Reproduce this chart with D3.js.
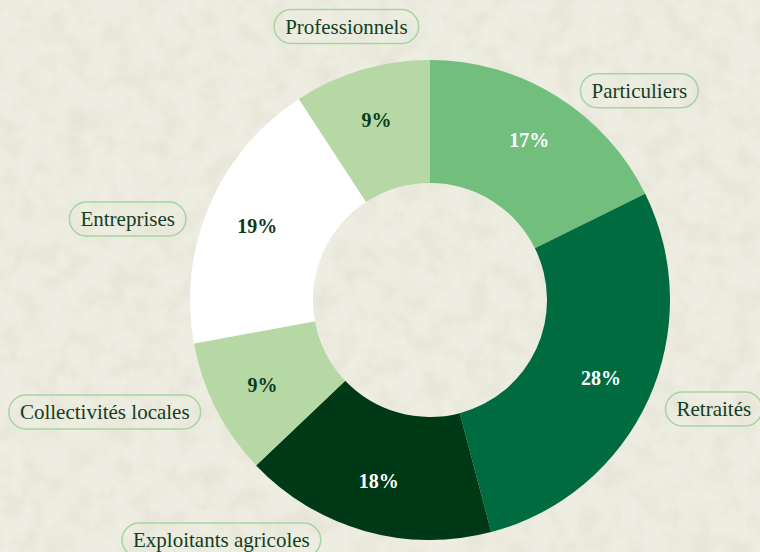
<!DOCTYPE html>
<html>
<head>
<meta charset="utf-8">
<script src="https://cdn.jsdelivr.net/npm/d3@7"></script>
<style>
  html, body { margin: 0; padding: 0; background: #eeede1; }
  svg { display: block; }
  .pill-text { font-family: 'Liberation Serif', 'DejaVu Serif', serif; font-size: 21px; fill: #123f22; }
  .pct { font-family: 'Liberation Serif', 'DejaVu Serif', serif; font-size: 20px; font-weight: bold; }
</style>
</head>
<body>
<svg id="chart" width="760" height="552"></svg>
<script>
// categories in drawing order, clockwise from 12 o'clock
const categories = ['Particuliers', 'Retraités', 'Exploitants agricoles', 'Collectivités locales', 'Entreprises', 'Professionnels'];
// slice sizes
const shares = [17.7, 28.2, 17.0, 9.2, 18.7, 9.2];
const pctLabels = ['17%', '28%', '18%', '9%', '19%', '9%'];

const sliceColors = ['#72be7d', '#006b3f', '#003915', '#b5d8a5', '#ffffff', '#b5d8a5'];
const pctColors = ['#ffffff', '#ffffff', '#ffffff', '#0b3a1c', '#0b3a1c', '#0b3a1c'];
// where each name tag sits: angle (deg from top, clockwise) and distance from centre
const tagAngles = [45, 111, 221, 251, 285, 343];
const tagDist = [296, 304, 318, 344, 313, 286];

const svg = d3.select('#chart');
const width = +svg.attr('width');
const height = +svg.attr('height');

// paper texture
const defs = svg.append('defs');
const f = defs.append('filter').attr('id', 'paper').attr('x', 0).attr('y', 0).attr('width', '100%').attr('height', '100%');
f.append('feTurbulence').attr('type', 'fractalNoise').attr('baseFrequency', 0.045).attr('numOctaves', 4).attr('seed', 3).attr('result', 'n');
f.append('feColorMatrix').attr('in', 'n').attr('type', 'matrix')
  .attr('values', '0 0 0 0 0.55  0 0 0 0 0.55  0 0 0 0 0.45  0 0 0 -1.2 0.75');
svg.append('rect').attr('width', width).attr('height', height).attr('fill', '#eeede1');
svg.append('rect').attr('width', width).attr('height', height).attr('filter', 'url(#paper)').attr('opacity', 0.35);

const cx = 430, cy = 300;
const outerR = 240, innerR = 117;

const data = categories.map((c, i) => ({ name: c, value: shares[i], pct: pctLabels[i], i }));

const pie = d3.pie().value(d => d.value).sort(null);
const arcs = pie(data);
const arc = d3.arc().innerRadius(innerR).outerRadius(outerR);
const labelArc = d3.arc().innerRadius(188).outerRadius(188);

const g = svg.append('g').attr('transform', `translate(${cx},${cy})`);

g.selectAll('path.slice').data(arcs).enter().append('path')
  .attr('class', 'slice')
  .attr('d', arc)
  .attr('fill', d => sliceColors[d.data.i]);

g.selectAll('text.pct').data(arcs).enter().append('text')
  .attr('class', 'pct')
  .attr('transform', d => `translate(${labelArc.centroid(d)})`)
  .attr('text-anchor', 'middle')
  .attr('dy', '0.35em')
  .attr('fill', d => pctColors[d.data.i])
  .text(d => d.data.pct);

// name tags with rounded outline
const tags = g.selectAll('g.tag').data(data).enter().append('g')
  .attr('class', 'tag')
  .attr('transform', d => {
    const a = tagAngles[d.i] * Math.PI / 180;
    return `translate(${tagDist[d.i] * Math.sin(a)},${-tagDist[d.i] * Math.cos(a)})`;
  });

tags.append('text')
  .attr('class', 'pill-text')
  .attr('text-anchor', 'middle')
  .attr('dy', '0.35em')
  .text(d => d.name);

tags.each(function() {
  const t = d3.select(this);
  const bb = t.select('text').node().getBBox();
  const h = 34, w = bb.width + 22;
  t.insert('rect', 'text')
    .attr('x', -w / 2).attr('y', -h / 2)
    .attr('width', w).attr('height', h)
    .attr('rx', h / 2)
    .attr('fill', 'none')
    .attr('stroke', '#a6d5a0')
    .attr('stroke-width', 1.5);
});
</script>
</body>
</html>
